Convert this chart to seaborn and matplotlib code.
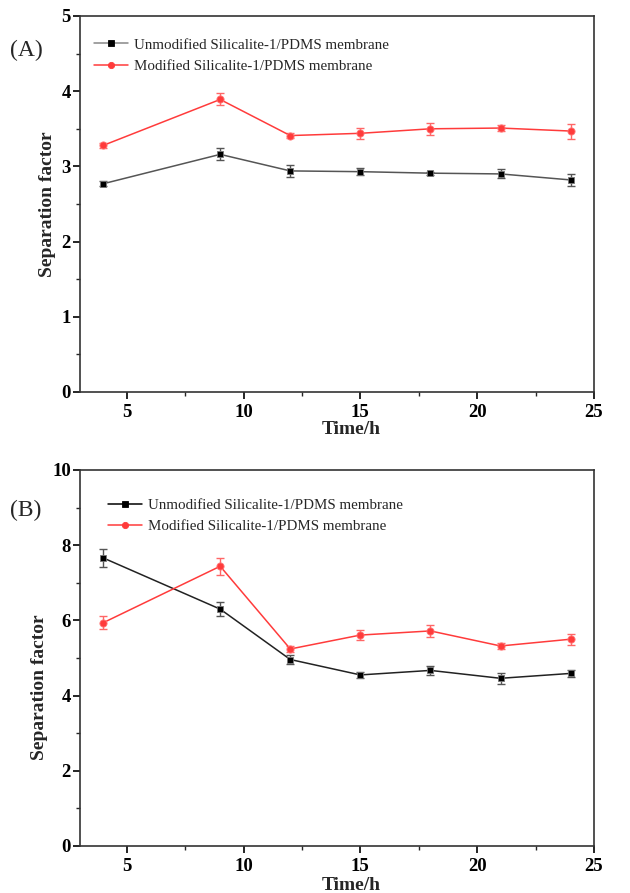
import matplotlib
matplotlib.use("Agg")
import matplotlib.pyplot as plt
import seaborn as sns
import pandas as pd
import numpy as np
from matplotlib.ticker import MultipleLocator

time_h = [4, 9, 12, 15, 18, 21, 24]

# Panel A
a_unmod = [2.77, 3.16, 2.94, 2.93, 2.91, 2.90, 2.82]
a_unmod_err = [0.03, 0.08, 0.08, 0.045, 0.02, 0.06, 0.08]
a_mod = [3.28, 3.89, 3.41, 3.44, 3.50, 3.51, 3.47]
a_mod_err = [0.03, 0.08, 0.03, 0.07, 0.08, 0.04, 0.10]

# Panel B
b_unmod = [7.66, 6.30, 4.96, 4.55, 4.67, 4.46, 4.59]
b_unmod_err = [0.23, 0.19, 0.13, 0.08, 0.12, 0.15, 0.09]
b_mod = [5.94, 7.44, 5.24, 5.61, 5.72, 5.32, 5.50]
b_mod_err = [0.17, 0.22, 0.07, 0.14, 0.15, 0.09, 0.15]

series_names = ["Unmodified Silicalite-1/PDMS membrane",
                "Modified Silicalite-1/PDMS membrane"]
panel_labels = ["(A)", "(B)"]
y_limits = [(0, 5), (0, 10)]
y_major = [1, 2]

sns.set_theme(style="ticks")
plt.rcParams['font.family'] = ['Liberation Serif', 'DejaVu Serif']

fig = plt.figure(figsize=(6.30, 8.93), dpi=100)
W, H = 630, 893
ax_a = fig.add_axes([80 / W, 1 - 392 / H, (594 - 80) / W, (392 - 16) / H])
ax_b = fig.add_axes([80 / W, 1 - 846 / H, (594 - 80) / W, (846 - 470) / H])

panels = [
    (ax_a, a_unmod, a_unmod_err, a_mod, a_mod_err),
    (ax_b, b_unmod, b_unmod_err, b_mod, b_mod_err),
]

black_line = ["#555555", "#222222"]
red = "#ff3b3b"
ylabel_coords = [(-0.046, 0.5), (-0.063, 0.423)]
xlabel_coords = [(0.527, -0.077), (0.527, -0.083)]
legend_anchor = [(0.0, 0.977), (0.028, 0.960)]
panel_label_y = [50, 510]

for i, (ax, u, ue, m, me) in enumerate(panels):
    df = pd.DataFrame({
        "Time": time_h * 2,
        "Value": u + m,
        "Series": [series_names[0]] * len(time_h) + [series_names[1]] * len(time_h),
    })
    ax.errorbar(time_h, u, yerr=ue, fmt='none', ecolor="#555555", elinewidth=1.0,
                capsize=2.6, capthick=1.0, zorder=2)
    ax.errorbar(time_h, m, yerr=me, fmt='none', ecolor="#ff6666", elinewidth=1.0,
                capsize=2.6, capthick=1.0, zorder=2)
    sns.lineplot(data=df, x="Time", y="Value", hue="Series", style="Series",
                 palette={series_names[0]: black_line[i], series_names[1]: red},
                 markers={series_names[0]: "s", series_names[1]: "o"},
                 dashes=False, markersize=5, linewidth=1.1,
                 markeredgewidth=0.6, ax=ax, zorder=3)
    for l in ax.get_lines():
        if l.get_marker() == "s":
            l.set_markerfacecolor("black")
            l.set_markeredgecolor("#777777")
            l.set_markersize(4.6)
        elif l.get_marker() == "o":
            l.set_markerfacecolor(red)
            l.set_markeredgecolor("#ff7777")
            l.set_markersize(5.2)

    ax.set_xlim(3, 25)
    ax.set_ylim(*y_limits[i])
    ax.xaxis.set_major_locator(MultipleLocator(5))
    ax.xaxis.set_minor_locator(MultipleLocator(2.5))
    ax.yaxis.set_major_locator(MultipleLocator(y_major[i]))
    ax.yaxis.set_minor_locator(MultipleLocator(y_major[i] / 2))
    ax.tick_params(axis='both', which='major', direction='out', length=5, width=1.2,
                   labelsize=13.5, colors='black')
    ax.tick_params(axis='y', which='major', pad=1.5)
    ax.tick_params(axis='both', which='minor', direction='out', length=3, width=1.0)
    for lab in ax.get_xticklabels() + ax.get_yticklabels():
        lab.set_fontweight('bold')
    for sp in ax.spines.values():
        sp.set_visible(True)
        sp.set_linewidth(1.2)
        sp.set_color("#333333")
    ax.set_ylabel("Separation factor", fontsize=14, fontweight='bold')
    ax.set_xlabel("Time/h", fontsize=14, fontweight='bold')
    ax.yaxis.set_label_coords(*ylabel_coords[i])
    ax.xaxis.set_label_coords(*xlabel_coords[i])

    handles, labels = ax.get_legend_handles_labels()
    leg = ax.legend(handles, labels, loc='upper left', bbox_to_anchor=legend_anchor[i],
                    frameon=False, fontsize=10.8, handlelength=2.3, handletextpad=0.4,
                    labelspacing=0.52, borderaxespad=0.5)
    for h in leg.legend_handles:
        if h.get_marker() == "s":
            h.set_markersize(4.5)
            h.set_color("#888888" if i == 0 else "black")
            h.set_markerfacecolor("black")
            h.set_markeredgecolor("black")
        else:
            h.set_markersize(4.5)
            h.set_markerfacecolor(red)
            h.set_markeredgecolor(red)

    fig.text(10 / W, 1 - panel_label_y[i] / H, panel_labels[i],
             fontsize=17, va='center', ha='left')

fig.savefig("out.png", dpi=100)
